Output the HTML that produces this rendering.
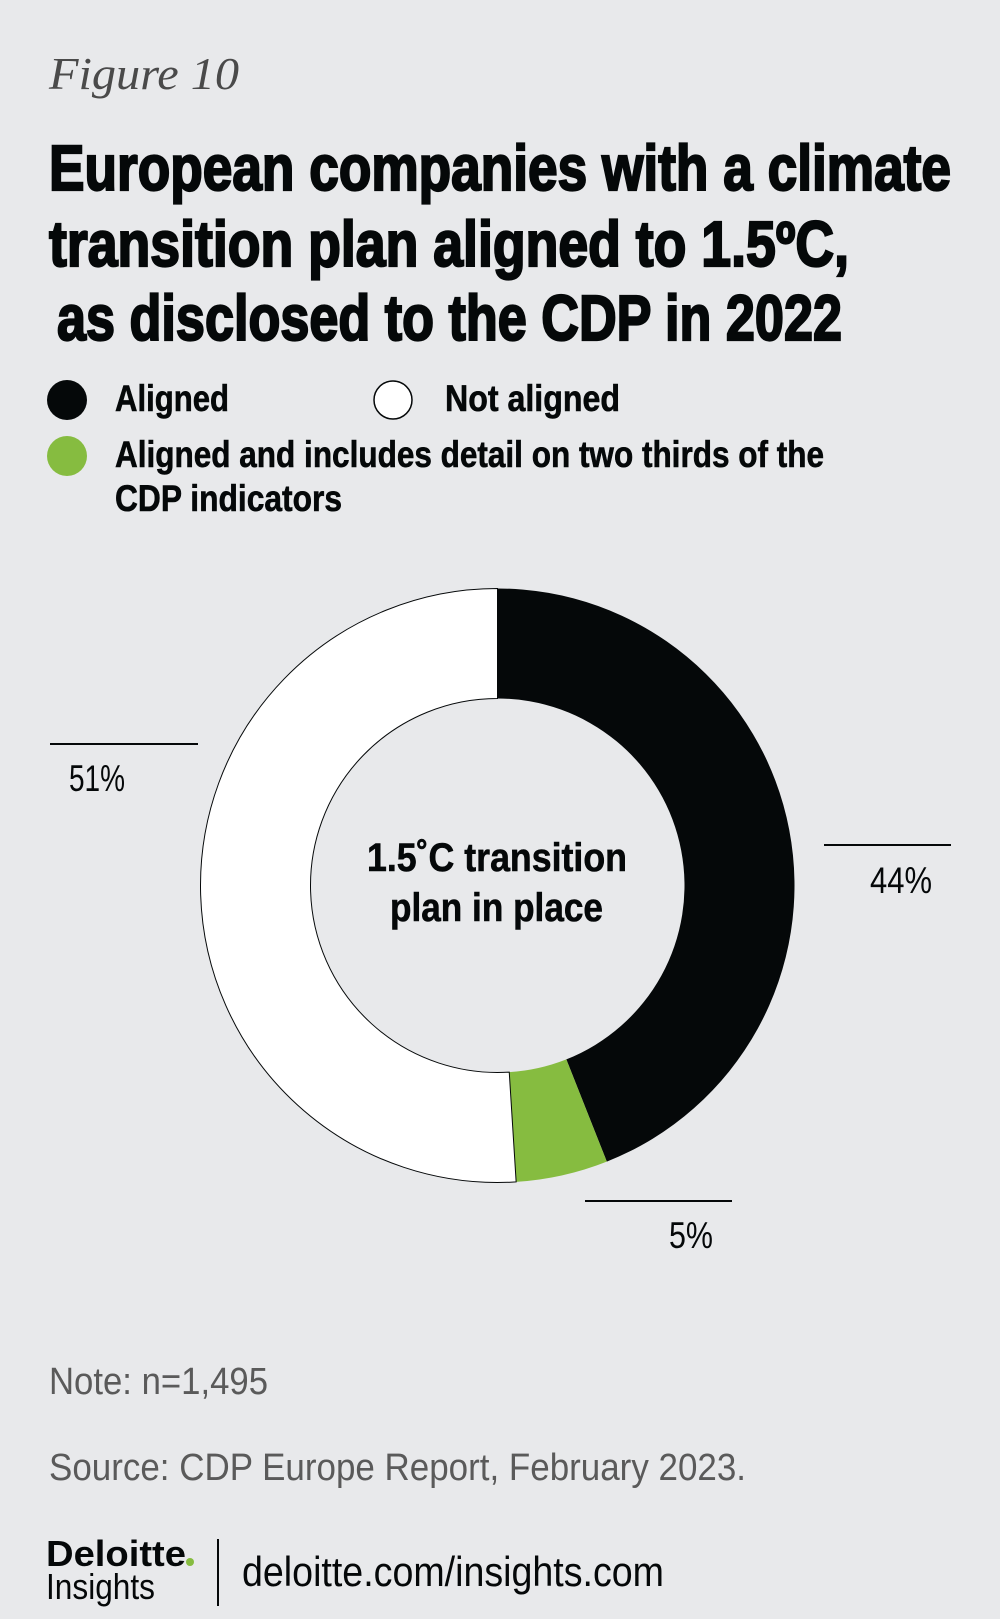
<!DOCTYPE html>
<html><head><meta charset="utf-8"><style>
html,body{margin:0;padding:0;background:#e8e9eb;}
svg{display:block;}
text{font-family:"Liberation Sans Narrow","Liberation Sans",sans-serif;}
</style></head><body>
<svg id="chart" width="1000" height="1619" viewBox="0 0 1000 1619">
<rect width="1000" height="1619" fill="#e8e9eb"/>
<text x="49" y="89" font-family="Liberation Serif, serif" font-style="italic" font-size="46" fill="#4a4a4a" style="font-family:'Liberation Serif',serif" textLength="190" lengthAdjust="spacingAndGlyphs">Figure 10</text>
<g font-weight="bold" font-size="64" fill="#050809" stroke="#050809" stroke-width="2.2">
<text x="49" y="190" textLength="902" lengthAdjust="spacingAndGlyphs">European companies with a climate</text>
<text x="49" y="266" textLength="800" lengthAdjust="spacingAndGlyphs">transition plan aligned to 1.5ºC,</text>
<text x="57" y="340" textLength="785" lengthAdjust="spacingAndGlyphs">as disclosed to the CDP in 2022</text>
</g>
<g font-weight="bold" font-size="37" fill="#050809" stroke="#050809" stroke-width="0.6">
<circle cx="67" cy="400" r="20" fill="#050809" stroke="none"/>
<text x="115" y="411" textLength="114" lengthAdjust="spacingAndGlyphs">Aligned</text>
<circle cx="393" cy="400" r="19" fill="#fff" stroke="#050809" stroke-width="1.5"/>
<text x="445" y="411" textLength="175" lengthAdjust="spacingAndGlyphs">Not aligned</text>
<circle cx="67" cy="456" r="20" fill="#86bc40" stroke="none"/>
<text x="115" y="467" textLength="709" lengthAdjust="spacingAndGlyphs">Aligned and includes detail on two thirds of the</text>
<text x="115" y="511" textLength="227" lengthAdjust="spacingAndGlyphs">CDP indicators</text>
</g>
<g id="donut"></g>
<g font-size="37" fill="#050809">
<line x1="50" y1="744" x2="198" y2="744" stroke="#050809" stroke-width="2"/>
<text x="69" y="791" textLength="56" lengthAdjust="spacingAndGlyphs">51%</text>
<line x1="824" y1="845" x2="951" y2="845" stroke="#050809" stroke-width="2"/>
<text x="870" y="893" textLength="62" lengthAdjust="spacingAndGlyphs">44%</text>
<line x1="585" y1="1201" x2="732" y2="1201" stroke="#050809" stroke-width="2"/>
<text x="669" y="1248" textLength="44" lengthAdjust="spacingAndGlyphs">5%</text>
</g>
<g font-weight="bold" font-size="40" fill="#050809" stroke="#050809" stroke-width="0.6">
<text x="367" y="871" textLength="260" lengthAdjust="spacingAndGlyphs">1.5˚C transition</text>
<text x="390" y="921" textLength="213" lengthAdjust="spacingAndGlyphs">plan in place</text>
</g>
<text x="49" y="1394" font-size="38" fill="#5a5a5a" textLength="219" lengthAdjust="spacingAndGlyphs">Note: n=1,495</text>
<text x="49" y="1480" font-size="38" fill="#5a5a5a" textLength="697" lengthAdjust="spacingAndGlyphs">Source: CDP Europe Report, February 2023.</text>
<g>
<text x="46" y="1566" font-size="36" font-weight="bold" fill="#050809" textLength="140" lengthAdjust="spacingAndGlyphs">Deloitte</text>
<circle cx="190" cy="1562" r="4" fill="#86bc40"/>
<text x="46" y="1599" font-size="36" fill="#050809" textLength="109" lengthAdjust="spacingAndGlyphs">Insights</text>
</g>
<line x1="218" y1="1539" x2="218" y2="1606" stroke="#050809" stroke-width="2"/>
<text x="242" y="1586" font-size="42" fill="#050809" textLength="422" lengthAdjust="spacingAndGlyphs">deloitte.com/insights.com</text>
</svg>
<script>
const categories = ["Aligned", "Aligned with detail", "Not aligned"];
const values = [44, 5, 51];
const colors = ["#050809", "#86bc40", "#ffffff"];
const cx = 497.5, cy = 885.5, rOut = 297, rIn = 187;
const g = document.getElementById('donut');
const total = values.reduce((a, b) => a + b, 0);
function angleScale(v) { return v / total * 2 * Math.PI; }
function pt(r, a) { return [cx + r * Math.sin(a), cy - r * Math.cos(a)]; }
let acc = 0;
values.forEach((v, i) => {
  const a0 = angleScale(acc), a1 = angleScale(acc + v);
  acc += v;
  const large = (a1 - a0) > Math.PI ? 1 : 0;
  const p0 = pt(rOut, a0), p1 = pt(rOut, a1), p2 = pt(rIn, a1), p3 = pt(rIn, a0);
  const d = `M${p0[0]},${p0[1]} A${rOut},${rOut} 0 ${large} 1 ${p1[0]},${p1[1]} L${p2[0]},${p2[1]} A${rIn},${rIn} 0 ${large} 0 ${p3[0]},${p3[1]} Z`;
  const path = document.createElementNS('http://www.w3.org/2000/svg', 'path');
  path.setAttribute('d', d);
  path.setAttribute('fill', colors[i]);
  path.setAttribute('stroke', i === 2 ? '#050809' : 'none');
  path.setAttribute('stroke-width', '1');
  
  
  g.appendChild(path);
});
</script>
</body></html>
